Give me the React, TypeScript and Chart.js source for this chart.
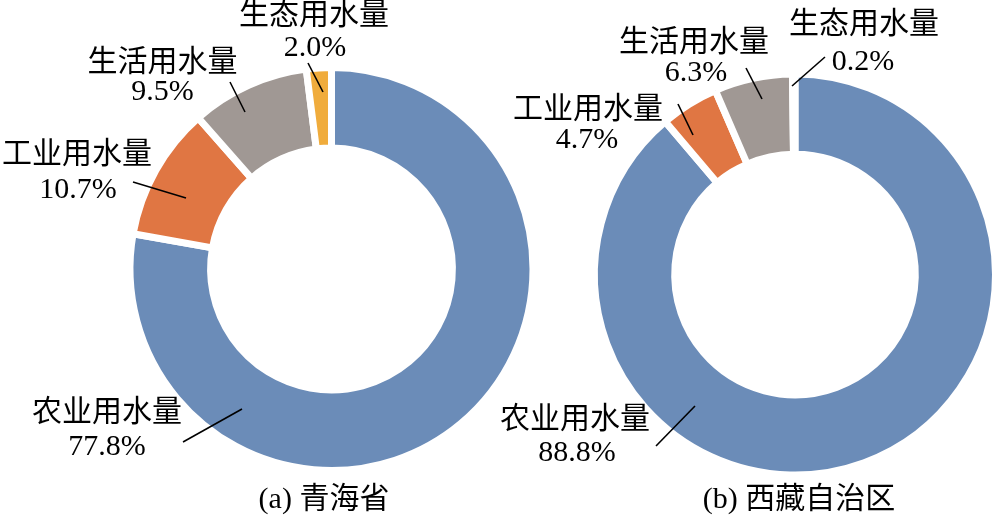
import React, { useEffect, useRef } from 'react';
import { Chart, registerables } from 'chart.js';

Chart.register(...registerables);

const categories = ['农业用水量', '工业用水量', '生活用水量', '生态用水量'];
const qinghaiValues = [77.8, 10.7, 9.5, 2.0];
const tibetValues = [88.8, 4.7, 6.3, 0.2];
const panelTitles = ['(a) 青海省', '(b) 西藏自治区'];
const sliceColors = ['#6B8CB8', '#E07643', '#A09894', '#F0AC3C'];

const FONT = '30px "Liberation Serif", "Noto Sans CJK SC", serif';

type LabelPos = {
  nx: number; ny: number; px: number; py: number;
  line: [number, number, number, number];
};

// label placement, relative to ring centre
const qinghaiLabels: LabelPos[] = [
  { nx: -224.5, ny: 144, px: -224.5, py: 178, line: [-148.5, 173, -89.5, 140] },
  { nx: -254.5, ny: -114, px: -253.5, py: -79, line: [-198.5, -87, -145.5, -71] },
  { nx: -169, ny: -206, px: -169, py: -177, line: [-101.5, -187, -86.5, -157] },
  { nx: -17.5, ny: -253, px: -16.5, py: -221, line: [-23.5, -206, -8.5, -177] },
];
const tibetLabels: LabelPos[] = [
  { nx: -220, ny: 145.5, px: -218, py: 178.5, line: [-139, 171.5, -100, 131.5] },
  { nx: -207, ny: -164.5, px: -208, py: -134.5, line: [-117, -170.5, -102, -139.5] },
  { nx: -101, ny: -231.5, px: -99, py: -201.5, line: [-49, -206.5, -33, -175.5] },
  { nx: 69, ny: -249.5, px: 68, py: -212.5, line: [30, -217.5, -3, -188.5] },
];

type RingProps = {
  values: number[];
  labels: LabelPos[];
  title: string;
  titleOffset: [number, number];
  padding: { left: number; right: number; top: number; bottom: number };
};

function Ring({ values, labels, title, titleOffset, padding }: RingProps) {
  const ref = useRef<HTMLCanvasElement | null>(null);
  useEffect(() => {
    if (!ref.current) return;
    const labelPlugin = {
      id: 'ringLabels',
      afterDraw(chart: any) {
        const ctx = chart.ctx;
        const meta = chart.getDatasetMeta(0);
        const arc = meta.data[0];
        const cx = arc.x;
        const cy = arc.y;
        ctx.save();
        ctx.font = FONT;
        ctx.fillStyle = '#000';
        ctx.textAlign = 'center';
        ctx.textBaseline = 'middle';
        ctx.strokeStyle = '#000';
        ctx.lineWidth = 1.6;
        labels.forEach((lp, i) => {
          ctx.fillText(categories[i], cx + lp.nx, cy + lp.ny);
          ctx.fillText(values[i].toFixed(1) + '%', cx + lp.px, cy + lp.py);
          ctx.beginPath();
          ctx.moveTo(cx + lp.line[0], cy + lp.line[1]);
          ctx.lineTo(cx + lp.line[2], cy + lp.line[3]);
          ctx.stroke();
        });
        ctx.fillText(title, cx + titleOffset[0], cy + titleOffset[1]);
        ctx.restore();
      },
    };
    const chart = new Chart(ref.current, {
      type: 'doughnut',
      data: {
        labels: categories,
        datasets: [
          {
            data: values,
            backgroundColor: sliceColors,
            borderColor: '#FFFFFF',
            borderWidth: 7,
            borderAlign: 'center',
          },
        ],
      },
      options: {
        responsive: false,
        animation: false,
        cutout: '60%',
        layout: { padding },
        plugins: {
          legend: { display: false },
          tooltip: { enabled: false },
        },
      },
      plugins: [labelPlugin],
    } as any);
    return () => chart.destroy();
  }, []);
  return (
    <canvas
      ref={ref}
      width={1000}
      height={518}
      style={{ position: 'absolute', left: 0, top: 0, width: 1000, height: 518 }}
    />
  );
}

export default function App() {
  return (
    <div style={{ position: 'absolute', left: 0, top: 0, width: 1000, height: 518, background: '#FFFFFF' }}>
      <Ring
        values={qinghaiValues}
        labels={qinghaiLabels}
        title={panelTitles[0]}
        titleOffset={[-7.5, 231]}
        padding={{ left: 126.5, right: 463.5, top: 64, bottom: 44 }}
      />
      <Ring
        values={tibetValues}
        labels={tibetLabels}
        title={panelTitles[1]}
        titleOffset={[4, 225.5]}
        padding={{ left: 591, right: 1, top: 70.5, bottom: 39.5 }}
      />
    </div>
  );
}
